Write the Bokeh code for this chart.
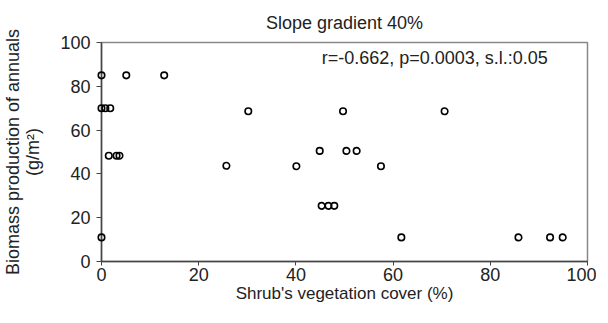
from bokeh.plotting import figure
from bokeh.models import Range1d, Label, FixedTicker
from bokeh.embed import file_html
from bokeh.resources import INLINE

# Data
shrub_cover = [0, 0, 0.8, 1.8, 0, 1.5, 3.1, 3.7, 5.1, 12.9, 25.7, 30.2, 40.1, 44.9,
               45.3, 46.7, 47.9, 49.7, 50.4, 52.5, 57.5, 61.7, 70.6, 85.8, 92.3, 94.9]
biomass = [85, 70, 70, 70, 11, 48.3, 48.3, 48.3, 85, 85, 43.7, 68.6, 43.5, 50.5,
           25.4, 25.4, 25.4, 68.6, 50.5, 50.5, 43.5, 11, 68.6, 11, 11, 11]
x_ticks = [0, 20, 40, 60, 80, 100]
y_ticks = [0, 20, 40, 60, 80, 100]
title_text = "Slope gradient 40%"
stats_text = "r=-0.662, p=0.0003, s.l.:0.05"

FONT = "Liberation Sans"
FS = "18px"

p = figure(frame_width=486, frame_height=219, output_backend="svg", toolbar_location=None,
           x_range=Range1d(0, 100), y_range=Range1d(0, 100),
           min_border_left=97, min_border_right=9, min_border_top=41, min_border_bottom=47,
           title=title_text)
p.title.align = "center"
p.title.text_font = FONT
p.title.text_font_size = FS
p.title.text_font_style = "normal"
p.title.text_color = "#222222"
p.title.standoff = 20

p.grid.visible = False
p.outline_line_color = "#888888"
p.outline_line_width = 1.5
p.background_fill_color = "white"
p.border_fill_color = "white"

for ax in (p.xaxis[0], p.yaxis[0]):
    ax.axis_line_color = "#444444"
    ax.axis_line_width = 1.5
    ax.major_tick_line_color = "#444444"
    ax.major_tick_in = 0
    ax.major_tick_out = 5
    ax.minor_tick_line_color = None
    ax.major_label_text_font = FONT
    ax.major_label_text_font_size = FS
    ax.major_label_text_color = "#222222"
    ax.axis_label_text_font = FONT
    ax.axis_label_text_font_size = FS
    ax.axis_label_text_font_style = "normal"
    ax.axis_label_text_color = "#222222"

p.xaxis.ticker = FixedTicker(ticks=x_ticks)
p.yaxis.ticker = FixedTicker(ticks=y_ticks)
p.xaxis.axis_label = "Shrub's vegetation cover (%)"
p.xaxis.axis_label_text_font_size = "17px"
p.yaxis.axis_label = "Biomass production of annuals\n(g/m²)"
p.yaxis.axis_label_text_line_height = 1.0
p.xaxis.major_tick_out = 4
p.xaxis.major_label_standoff = 2
p.yaxis.major_label_standoff = 6
p.xaxis.axis_label_standoff = 0
p.yaxis.axis_label_standoff = 14

r = p.scatter(shrub_cover, biomass, marker="circle", size=6.5, fill_color=None,
              line_color="black", line_width=1.6)
r.level = "overlay"

p.add_layout(Label(x=45.3, y=93, text=stats_text, text_font=FONT, text_font_size=FS,
                   text_baseline="middle", text_align="left", text_color="#222222"))

open("out.html", "w").write(file_html(p, INLINE))
